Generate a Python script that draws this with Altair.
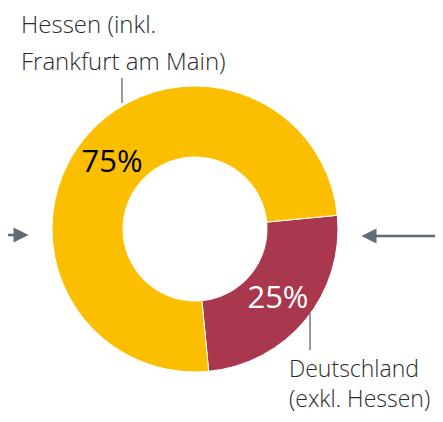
import math
import altair as alt
import pandas as pd

categories = ["Deutschland (exkl. Hessen)", "Hessen (inkl. Frankfurt am Main)"]
shares = [25, 75]
pct_labels = ["25%", "75%"]
seg_colors = ["#A9384F", "#FCBF00"]
pct_colors = ["#FFFFFF", "#000000"]
hessen_lines = ["Hessen (inkl.", "Frankfurt am Main)"]
deutschland_lines = ["Deutschland", "(exkl. Hessen)"]

df = pd.DataFrame({
    "cat": categories,
    "share": shares,
    "pct": pct_labels,
    "ord": [0, 1],
    "tcol": pct_colors,
})

M = 8  # page margin
cx, cy = 195 - M, 229 - M
start = math.radians(84.5)
theta_scale = alt.Scale(range=[start, start + 2 * math.pi])
FONT = "Open Sans"
TXT = "#2b2b2b"
ARROW = "#5F6B77"

base = alt.Chart(df)
ring = base.mark_arc(outerRadius=143, innerRadius=72, stroke="white", strokeWidth=1).encode(
    theta=alt.Theta("share:Q", stack=True, scale=theta_scale),
    color=alt.Color("cat:N", scale=alt.Scale(domain=categories, range=seg_colors), legend=None),
    order=alt.Order("ord:Q"),
    x=alt.value(cx),
    y=alt.value(cy),
)
pct = base.mark_text(radius=107.5, fontSize=31, font=FONT, fontWeight=400, dy=2).encode(
    theta=alt.Theta("share:Q", stack=True, scale=theta_scale),
    text="pct:N",
    color=alt.Color("tcol:N", scale=None),
    order=alt.Order("ord:Q"),
    x=alt.value(cx),
    y=alt.value(cy),
)

one = alt.Data(values=[{"k": 1}])

def label(lines, x, y, lh, size):
    return alt.Chart(one).mark_text(
        align="left", baseline="alphabetic", fontSize=size, font=FONT, fontWeight=300,
        lineHeight=lh, color=TXT,
    ).encode(x=alt.value(x - M), y=alt.value(y - M), text=alt.value(lines))

def rule(x1, y1, x2, y2, color, width):
    return alt.Chart(one).mark_rule(color=color, strokeWidth=width).encode(
        x=alt.value(x1 - M), x2=alt.value(x2 - M), y=alt.value(y1 - M), y2=alt.value(y2 - M)
    )

def head(x, y, path):
    return alt.Chart(one).mark_point(shape=path, size=225, filled=True, color=ARROW, opacity=1).encode(
        x=alt.value(x - M), y=alt.value(y - M)
    )

hessen = label(hessen_lines, 21, 33, 37, 24)
deutsch = label(deutschland_lines, 289, 377, 30, 23)
lead1 = rule(122, 78, 122, 103, "#555555", 1.2)
lead2 = rule(310, 313, 310, 350, "#555555", 1.2)
shaft_l = rule(0, 235, 16, 235, ARROW, 2.5)
head_l = head(21, 235, "M-1,-1L1,0L-1,1Z")
shaft_r = rule(374, 236, 443, 236, ARROW, 2.5)
head_r = head(369, 236, "M1,-1L-1,0L1,1Z")

chart = alt.layer(
    ring, pct, hessen, deutsch, lead1, lead2, shaft_l, head_l, shaft_r, head_r
).properties(
    width=427, height=406, autosize=alt.AutoSizeParams(type="none"), padding=0
).configure_view(stroke=None)

chart.save("out.html", embed_options={"renderer": "svg", "actions": False})
